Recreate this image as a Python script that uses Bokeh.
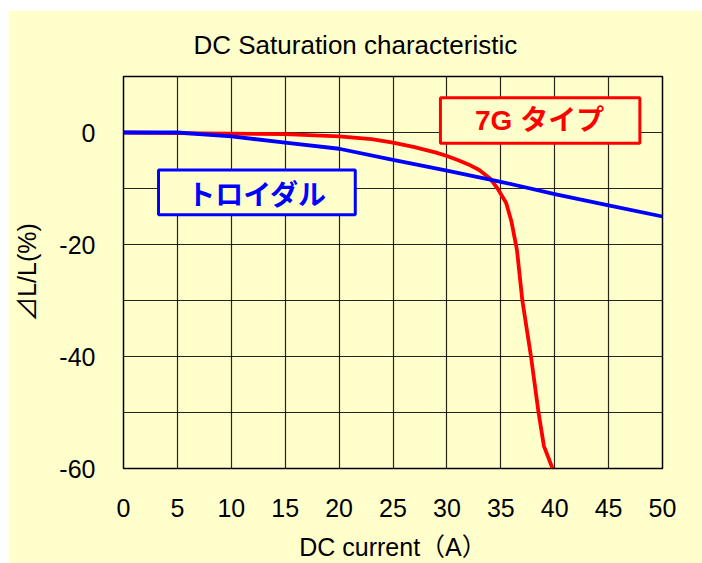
from bokeh.plotting import figure
from bokeh.models import FixedTicker, BoxAnnotation, Label, Range1d
from bokeh.embed import file_html
from bokeh.resources import INLINE

# ---- data ----
x_ticks = [0, 5, 10, 15, 20, 25, 30, 35, 40, 45, 50]
y_ticks = [-60, -40, -20, 0]
y_tick_labels = ["-60", "-40", "-20", "0"]
y_grid = [-60, -50, -40, -30, -20, -10, 0, 10]

toroidal_x = [0, 5, 10, 15, 20, 25, 30, 35, 40, 45, 50]
toroidal_y = [0, 0, -0.7, -1.8, -2.9, -4.9, -6.8, -8.8, -11.0, -13.0, -15.0]

g7_x = [0, 5, 10, 15, 20, 23, 25, 27, 29, 30, 31, 32, 33, 34, 34.7, 35.5, 36, 36.5, 37, 37.8, 38.5, 39, 39.8]
g7_y = [0, -0.1, -0.2, -0.3, -0.7, -1.2, -1.8, -2.6, -3.6, -4.2, -4.9, -5.7, -6.7, -8.2, -10, -12.6, -16, -21, -30, -40, -50, -56, -60]

BG = "#FFFFCC"
LATIN = "Liberation Sans, Noto Sans CJK JP"
JP = "Noto Sans CJK JP"

p = figure(frame_width=539, frame_height=392,
           min_border_left=115, min_border_right=40,
           min_border_top=66, min_border_bottom=95,
           x_range=Range1d(0, 50), y_range=Range1d(-60, 10),
           output_backend="svg", toolbar_location=None,
           title="DC Saturation characteristic")
p.margin = (10, 0, 0, 8)

p.background_fill_color = BG
p.border_fill_color = BG
p.outline_line_color = "black"
p.outline_line_width = 1.5

p.title.align = "left"
p.title.offset = 70
p.title.text_font = LATIN
p.title.text_font_style = "normal"
p.title.text_font_size = "26px"
p.title.text_color = "black"
p.title.standoff = 33

# axes
p.xaxis.ticker = FixedTicker(ticks=x_ticks)
p.yaxis.ticker = FixedTicker(ticks=y_ticks)
p.yaxis.major_label_overrides = {t: s for t, s in zip(y_ticks, y_tick_labels)}
p.xgrid.ticker = FixedTicker(ticks=x_ticks)
p.ygrid.ticker = FixedTicker(ticks=y_grid)
for ax in (p.xaxis, p.yaxis):
    ax.axis_line_color = None
    ax.major_tick_line_color = None
    ax.minor_tick_line_color = None
    ax.major_label_text_font = LATIN
    ax.major_label_text_font_size = "25px"
    ax.major_label_text_color = "black"
    ax.axis_label_text_font = LATIN
    ax.axis_label_text_font_size = "25px"
    ax.axis_label_text_font_style = "normal"
    ax.axis_label_text_color = "black"

p.xaxis.axis_label = "DC current（A）"
p.yaxis.axis_label = "⊿L/L(%)"
p.xaxis.major_label_standoff = 24
p.xaxis.axis_label_standoff = 13
p.yaxis.major_label_standoff = 22
p.yaxis.axis_label_standoff = 15

for g in (p.xgrid, p.ygrid):
    g.grid_line_color = "black"
    g.grid_line_alpha = 0.85
    g.grid_line_width = 1.2

# series (blue drawn on top of red, as in the reference)
p.line(g7_x, g7_y, line_color="#FF0000", line_width=3.8, line_join="round")
p.line(toroidal_x, toroidal_y, line_color="#0000FF", line_width=3.8, line_join="round")

# labelled boxes
p.add_layout(BoxAnnotation(left=29.4, right=47.9, top=6.2, bottom=-1.9,
                           fill_color=BG, fill_alpha=1,
                           line_color="#FF0000", line_width=3, line_alpha=1))
p.add_layout(Label(x=38.6, y=2.1, text="7G タイプ", text_align="center",
                   text_baseline="middle", text_font=LATIN, text_font_style="bold",
                   text_font_size="28px", text_color="#FF0000"))

p.add_layout(BoxAnnotation(left=3.25, right=21.5, top=-6.7, bottom=-14.7,
                           fill_color=BG, fill_alpha=1,
                           line_color="#0000FF", line_width=3, line_alpha=1))
p.add_layout(Label(x=12.4, y=-10.8, text="トロイダル", text_align="center",
                   text_baseline="middle", text_font=JP, text_font_style="bold",
                   text_font_size="28px", text_color="#0000FF"))

open("out.html", "w").write(file_html(p, INLINE))
